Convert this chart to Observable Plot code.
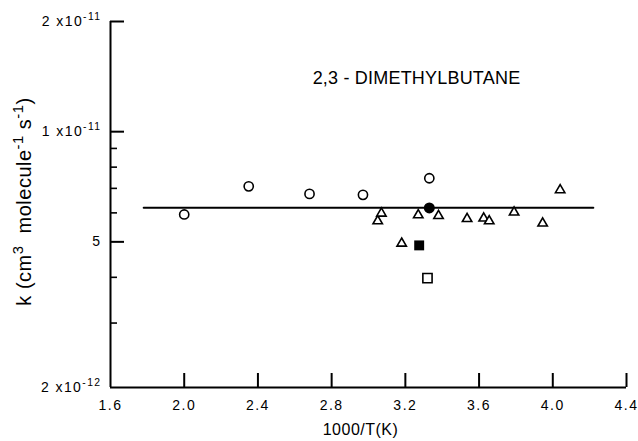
<!DOCTYPE html>
<html>
<head>
<meta charset="utf-8">
<script src="https://cdn.jsdelivr.net/npm/d3@7"></script>
<script src="https://cdn.jsdelivr.net/npm/@observablehq/plot@0.6"></script>
<style>
  body { margin: 0; background: #fff; }
  #chart svg { display: block; }
</style>
</head>
<body>
<div id="chart"></div>
<script>
// Rate constants in units of 1e-12 cm3 molecule-1 s-1
const openCircleX = [2.0, 2.35, 2.68, 2.97, 3.33];
const openCircleK = [5.94, 7.09, 6.76, 6.72, 7.46];
const triangleX = [3.05, 3.07, 3.18, 3.27, 3.38, 3.535, 3.625, 3.655, 3.79, 3.945, 4.04];
const triangleK = [5.70, 5.98, 4.95, 5.92, 5.89, 5.78, 5.80, 5.70, 6.02, 5.62, 6.93];
const filledCircleX = [3.33];
const filledCircleK = [6.19];
const filledSquareX = [3.275];
const filledSquareK = [4.89];
const openSquareX = [3.32];
const openSquareK = [3.98];
const fitX = [1.78, 4.22];
const fitK = [6.2, 6.2];

const xTicks = [1.6, 2.0, 2.4, 2.8, 3.2, 3.6, 4.0, 4.4];
const xTickLabels = ["1.6", "2.0", "2.4", "2.8", "3.2", "3.6", "4.0", "4.4"];
const yMajorTicks = [2, 5, 10, 20];
const yMinorTicks = [3, 4, 6, 7, 8, 9];
const yTickLabels = ["2 x10^{-12}", "5", "1 x10^{-11}", "2 x10^{-11}"];
const titleText = "2,3 - DIMETHYLBUTANE";
const xLabel = "1000/T(K)";
const yLabel = "k (cm^{3}  molecule^{-1} s^{-1})";

const W = 638, H = 441, mL = 110, mR = 12, mT = 21, mB = 54;
const plotW = W - mL - mR, plotH = H - mT - mB;
const zip = (xs, ks) => xs.map((x, i) => ({x, k: ks[i]}));

const chart = Plot.plot({
  width: W, height: H,
  marginLeft: mL, marginRight: mR, marginTop: mT, marginBottom: mB,
  style: {fontFamily: "'Liberation Sans', Arial, sans-serif", background: "#fff", color: "#000"},
  x: {domain: [1.6, 4.4]},
  y: {type: "log", domain: [2, 20]},
  marks: [
    Plot.axisX(xTicks, {tickSize: 0, tickPadding: 13, tickFormat: d => xTickLabels[xTicks.indexOf(d)], label: null}),
    Plot.axisY(yMajorTicks, {tickSize: 0, tickPadding: 9, tickFormat: d => yTickLabels[yMajorTicks.indexOf(d)], label: null}),
    Plot.tickX(xTicks.slice(1), {x: d => d, insetTop: plotH - 14, strokeWidth: 2}),
    Plot.tickY(yMajorTicks.slice(1), {y: d => d, insetRight: plotW - 14, strokeWidth: 2}),
    Plot.tickY(yMinorTicks, {y: d => d, insetRight: plotW - 7, strokeWidth: 1.6}),
    Plot.ruleX([1.6], {strokeWidth: 2}),
    Plot.ruleY([2], {strokeWidth: 2}),
    Plot.line(zip(fitX, fitK), {x: "x", y: "k", strokeWidth: 2}),
    Plot.dot(zip(openCircleX, openCircleK), {x: "x", y: "k", r: 4.6, stroke: "black", strokeWidth: 1.6, fill: "white"}),
    Plot.dot(zip(triangleX, triangleK), {x: "x", y: "k", symbol: "triangle", r: 3.5, stroke: "black", strokeWidth: 1.6, fill: "white"}),
    Plot.dot(zip(filledCircleX, filledCircleK), {x: "x", y: "k", r: 5.5, fill: "black", stroke: "none"}),
    Plot.dot(zip(filledSquareX, filledSquareK), {x: "x", y: "k", symbol: "square", r: 5.6, fill: "black", stroke: "none"}),
    Plot.dot(zip(openSquareX, openSquareK), {x: "x", y: "k", symbol: "square", r: 5.2, stroke: "black", strokeWidth: 1.6, fill: "white"}),
    Plot.text([titleText], {frameAnchor: "top", textAnchor: "middle", lineAnchor: "middle", dx: 48, dy: 57, fontSize: 18, text: d => d}),
    Plot.text([xLabel], {frameAnchor: "bottom", textAnchor: "middle", lineAnchor: "middle", dx: -8, dy: 42, fontSize: 16, text: d => d}),
    Plot.text([yLabel], {frameAnchor: "left", textAnchor: "middle", lineAnchor: "middle", dx: -86, dy: -3, rotate: -90, fontSize: 20, text: d => d})
  ]
});
document.getElementById("chart").appendChild(chart);

// Typography: sizes, spacing and superscripts
d3.select(chart).selectAll("text").each(function() {
  const s = this.textContent;
  const t = d3.select(this);
  if (xTickLabels.includes(s)) {
    t.style("font-size", "14px").style("letter-spacing", "1.5px");
  } else if (yTickLabels.includes(s)) {
    t.style("font-size", "14px").style("letter-spacing", "1.4px");
  } else if (s === titleText) {
    t.style("letter-spacing", "0.2px");
  } else if (s === xLabel) {
    t.style("letter-spacing", "0.5px");
  } else if (s === yLabel) {
    t.style("letter-spacing", "0.5px").style("white-space", "pre");
  }
  if (s.includes("^{")) {
    const fs = parseFloat(getComputedStyle(this).fontSize) || 14;
    const parts = s.split(/\^\{([^}]*)\}/);
    t.text(null);
    parts.forEach((p, i) => {
      if (p === "") return;
      const sup = i % 2 === 1;
      const ts = t.append("tspan").text(p);
      if (sup) {
        ts.style("font-size", (fs * 0.74) + "px").attr("dy", -fs * 0.42);
      } else if (i > 0) {
        ts.attr("dy", fs * 0.42);
      }
    });
  }
});
</script>
</body>
</html>
